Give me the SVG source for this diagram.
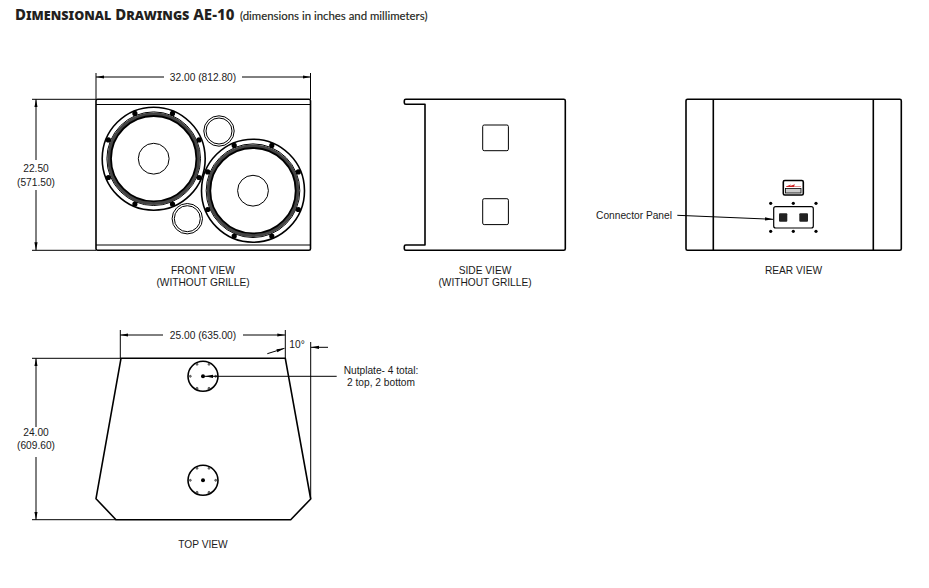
<svg xmlns="http://www.w3.org/2000/svg" xmlns:xlink="http://www.w3.org/1999/xlink" width="929" height="588" viewBox="0 0 929 588">
<style>
text{font-family:"Liberation Sans",Arial,sans-serif;font-size:10.2px;fill:#1a1a1a;text-anchor:middle}
.o{fill:none;stroke:#000;stroke-width:1.6;stroke-linejoin:round}
.t{fill:none;stroke:#000;stroke-width:1}
.d{fill:none;stroke:#000;stroke-width:1}
.a{marker-end:url(#ah)}
.title{font-family:"Noto Sans","Open Sans",sans-serif;text-anchor:start;fill:#231f20}
</style>
<defs>
<marker id="ah" markerUnits="userSpaceOnUse" viewBox="0 0 8 4" refX="8" refY="2" markerWidth="8" markerHeight="4" orient="auto"><path d="M0 .4L8 2L0 3.6Z" fill="#000"/></marker>
<g id="woofer">
<circle r="51.5" class="o"/>
<circle r="46.8" class="t"/>
<circle r="44.6" fill="none" stroke="#444" stroke-width="3.4"/>
<circle r="42.7" fill="none" stroke="#000" stroke-width="1.8"/>
<circle r="15.4" class="t"/>
<g fill="#000"><circle cx="18.8" cy="-45.3" r="2.6"/><circle cx="45.3" cy="-18.8" r="2.6"/><circle cx="45.3" cy="18.8" r="2.6"/><circle cx="18.8" cy="45.3" r="2.6"/><circle cx="-18.8" cy="45.3" r="2.6"/><circle cx="-45.3" cy="18.8" r="2.6"/><circle cx="-45.3" cy="-18.8" r="2.6"/><circle cx="-18.8" cy="-45.3" r="2.6"/></g>
</g>
<g id="port"><circle r="15.2" class="t"/><circle r="13" class="t"/></g>
<g id="nutplate">
<circle r="15" class="o"/><circle r="2" fill="#000"/>
<g fill="#888" stroke="#222" stroke-width=".6"><circle cx="-6" cy="-12" r="1"/><circle cx="6" cy="-12" r="1"/><circle cx="-12.7" r="1"/><circle cx="12.7" r="1"/><circle cx="-6" cy="12" r="1"/><circle cx="6" cy="12" r="1"/></g>
</g>
</defs>
<rect width="929" height="588" fill="#fff"/>
<g id="title">
<text class="title" x="15" y="20" style="font-size:15px;font-weight:800;font-variant:small-caps">Dimensional Drawings AE-10</text>
<text class="title" x="240" y="19.5" style="font-size:11.4px;font-family:'Lato','Noto Sans',sans-serif" stroke="#231f20" stroke-width=".15">(dimensions in inches and millimeters)</text>
</g>
<g id="front-view">
<rect x="96" y="99.3" width="214.5" height="151" rx="1.5" class="o"/>
<path class="t" d="M96 104.5H310.5M96 245H310.5"/>
<use xlink:href="#woofer" href="#woofer" x="153.7" y="158.7"/>
<use xlink:href="#woofer" href="#woofer" x="253" y="190.7"/>
<use xlink:href="#port" href="#port" x="219" y="131"/>
<use xlink:href="#port" href="#port" x="187.3" y="218.7"/>
<text x="203" y="274">FRONT VIEW</text>
<text x="203" y="286">(WITHOUT GRILLE)</text>
</g>
<g id="side-view">
<path class="o" d="M425 104.3H405.8Q404.3 104.3 404.3 102.8V100.8Q404.3 99.3 405.8 99.3H563.8Q565.3 99.3 565.3 100.8V248.8Q565.3 250.3 563.8 250.3H405.8Q404.3 250.3 404.3 248.8V246.5Q404.3 245 405.8 245H425Z"/>
<rect x="482.7" y="125" width="25.7" height="25.7" rx="1.5" class="t"/>
<rect x="482.7" y="198.7" width="25.7" height="25.9" rx="1.5" class="t"/>
<text x="485" y="274">SIDE VIEW</text>
<text x="485" y="286">(WITHOUT GRILLE)</text>
</g>
<g id="rear-view">
<rect x="686" y="99.3" width="215.3" height="151" rx="1.5" class="o"/>
<path class="o" d="M713.3 99.3V250.3M873.3 99.3V250.3"/>
<rect x="783.3" y="180.5" width="20" height="14.5" rx="1.5" class="o"/>
<path d="M786 186.5L791 184.5L790 186L795 184.3L794 186.5H801V187H786Z" fill="#c22"/>
<rect x="785.5" y="188.5" width="15.5" height="4.5" stroke="#000" stroke-width=".8" fill="#ccc"/>
<rect x="773.7" y="206.7" width="39.6" height="21.3" rx="2" fill="none" stroke="#000" stroke-width="1.2"/>
<rect x="779" y="213.3" width="8.3" height="8.4" rx="1" fill="#222"/>
<rect x="799.3" y="213.3" width="8.7" height="8.4" rx="1" fill="#222"/>
<g fill="#000"><circle cx="770.7" cy="203.3" r="1.6"/><circle cx="793.3" cy="203.3" r="1.6"/><circle cx="816" cy="203.3" r="1.6"/><circle cx="770.7" cy="231.3" r="1.6"/><circle cx="793.3" cy="231.3" r="1.6"/><circle cx="816" cy="231.3" r="1.6"/></g>
<text x="793.5" y="274">REAR VIEW</text>
</g>
<g id="top-view">
<path class="o" d="M121 358.3H285.3L310.7 499L290.7 519.7H116L96 498.7Z"/>
<use xlink:href="#nutplate" href="#nutplate" x="203" y="376.3"/>
<use xlink:href="#nutplate" href="#nutplate" x="203" y="480.3"/>
<text x="203" y="548">TOP VIEW</text>
</g>
<g id="connectors">
<path class="d" d="M96 73V99M310.5 73V99M32 99.3H96M32 250.3H96"/>
<path class="d a" d="M164 77H96"/><path class="d a" d="M242 77H310.5"/>
<path class="d a" d="M36 160V99.3"/><path class="d a" d="M36 190V250.3"/>
<path class="d" d="M120.3 330V358M285.3 330V358M32 358.3H121M32 519.7H116"/>
<path class="d a" d="M163 335H120.3"/><path class="d a" d="M243 335H285.3"/>
<path class="d a" d="M36 427V358.3"/><path class="d a" d="M36 457V519.7"/>
<path class="d" d="M310.7 342V499"/>
<path class="d a" d="M267.3 353.7L284.5 348.3"/><path class="d a" d="M328 347.3H311"/>
<path class="d a" d="M336.7 376.3H205"/>
<path class="d a" d="M677.3 215.3L773 219.3"/>
</g>
<g id="labels">
<text x="203" y="81">32.00 (812.80)</text>
<text x="36" y="172">22.50</text>
<text x="36" y="186">(571.50)</text>
<text x="203" y="339">25.00 (635.00)</text>
<text x="297" y="348">10°</text>
<text x="36" y="436">24.00</text>
<text x="36" y="449">(609.60)</text>
<text x="381" y="374">Nutplate- 4 total:</text>
<text x="381" y="386">2 top, 2 bottom</text>
<text x="634" y="219">Connector Panel</text>
</g>
</svg>
